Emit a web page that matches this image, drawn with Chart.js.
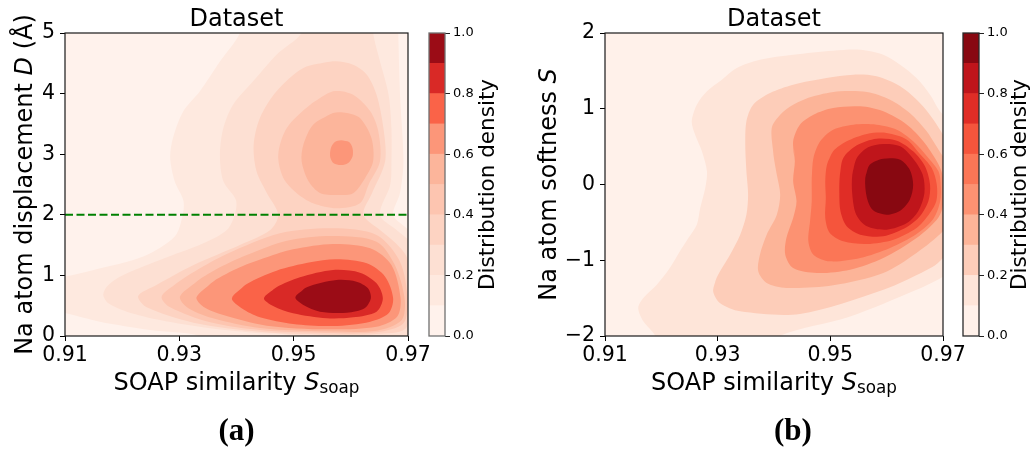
<!DOCTYPE html>
<html>
<head>
<meta charset="utf-8">
<script src="https://cdn.jsdelivr.net/npm/chart.js@4.4.1/dist/chart.umd.min.js"></script>
<style>
  html, body { margin: 0; padding: 0; background: #fff; }
  #page { position: relative; width: 1036px; height: 451px; overflow: hidden; background: #fff; }
  .box { position: absolute; top: 0; }
  .cap { position: absolute; width: 100px; text-align: center; color: #000;
         font-family: "Liberation Serif", "Times New Roman", serif; font-weight: bold;
         font-size: 31px; line-height: 31px; }
</style>
</head>
<body>
<div id="page">
  <div class="box" style="left:0px"><canvas id="mapA" width="440" height="451"></canvas></div>
  <div class="box" style="left:420px"><canvas id="barA" width="100" height="451"></canvas></div>
  <div class="box" style="left:520px"><canvas id="mapB" width="460" height="451"></canvas></div>
  <div class="box" style="left:950px"><canvas id="barB" width="86" height="451"></canvas></div>
  <div class="cap" style="left:186.5px; top:414px">(a)</div>
  <div class="cap" style="left:743px; top:414px">(b)</div>
</div>
<script>
// ---------- axes ----------
const X_RANGE = [0.91, 0.97];
const X_TICKS = [0.91, 0.93, 0.95, 0.97];
const A_Y_RANGE = [0, 5];
const A_Y_TICKS = [0, 1, 2, 3, 4, 5];
const B_Y_RANGE = [-2, 2];
const B_Y_TICKS = [-2, -1, 0, 1, 2];
const LEVELS = [0, 0.1, 0.2, 0.3, 0.4, 0.5, 0.6, 0.7, 0.8, 0.9, 1.0];
const BAR_TICKS = [0, 0.2, 0.4, 0.6, 0.8, 1.0];
const A_CUTOFF_D = [2];

// ---------- (a) density contours, points are [S_soap, D] ----------
const A_L1 = [[0.9406,5.3],[0.9406,5.0],[0.9371,4.53],[0.9336,4.04],[0.9307,3.71],[0.9289,3.27],[0.9284,2.94],[0.9292,2.55],[0.9307,2.24],[0.9306,2.0],[0.9292,1.64],[0.9237,1.31],[0.9150,1.09],[0.9100,0.98],[0.9050,0.90],[0.9050,0.45],[0.9100,0.38],[0.9161,0.236],[0.9249,0.099],[0.9336,0.0],[0.9350,-0.2],[0.9720,-0.2],[0.9730,1.5],[0.9715,1.65],[0.9695,1.8],[0.9674,2.002],[0.9686,2.36],[0.9692,2.88],[0.9686,3.98],[0.9683,5.0],[0.9683,5.3]];
const A_L2 = [[0.9514,5.3],[0.9514,5.0],[0.9470,4.643],[0.9429,4.202],[0.9394,3.817],[0.9377,3.432],[0.9371,2.992],[0.9377,2.552],[0.9399,2.244],[0.9397,2.002],[0.9383,1.749],[0.9342,1.529],[0.9266,1.254],[0.9196,0.979],[0.9173,0.814],[0.9167,0.677],[0.9176,0.539],[0.9208,0.402],[0.9266,0.264],[0.9354,0.127],[0.9441,0.044],[0.9500,0.0],[0.9520,-0.2],[0.9720,-0.2],[0.9725,1.3],[0.9705,1.55],[0.9680,1.75],[0.9651,2.002],[0.9669,2.497],[0.9671,2.882],[0.9671,3.432],[0.9666,3.982],[0.9651,4.532],[0.9639,5.0],[0.9639,5.3]];
const A_L3 = [[0.9569,4.532],[0.9517,4.422],[0.9470,4.037],[0.9441,3.597],[0.9430,3.157],[0.9435,2.717],[0.9453,2.36],[0.9473,2.002],[0.9459,1.749],[0.9406,1.502],[0.9325,1.172],[0.9260,0.842],[0.9228,0.66],[0.9243,0.473],[0.9325,0.220],[0.9441,0.072],[0.9558,0.022],[0.9645,0.033],[0.9695,0.116],[0.9703,0.484],[0.9703,0.98],[0.9698,1.3],[0.9680,1.52],[0.9651,1.749],[0.9622,2.002],[0.9637,2.354],[0.9660,2.882],[0.9657,3.432],[0.9645,3.982],[0.9628,4.312],[0.9604,4.477]];
const A_L4_UPPER = [[0.9569,4.037],[0.9529,3.817],[0.9488,3.432],[0.9473,2.992],[0.9482,2.607],[0.9505,2.36],[0.9534,2.19],[0.9575,2.107],[0.9616,2.19],[0.9631,2.497],[0.9651,2.882],[0.9648,3.377],[0.9634,3.707],[0.9604,3.982]];
const A_L4_LOWER = [[0.9269,0.649],[0.9295,0.869],[0.9336,1.117],[0.9383,1.353],[0.9476,1.694],[0.9569,1.777],[0.9645,1.667],[0.9686,1.227],[0.9699,0.622],[0.9692,0.209],[0.9645,0.061],[0.9558,0.050],[0.9441,0.099],[0.9354,0.226],[0.9284,0.473]];
const A_L5_UPPER = [[0.9569,3.680],[0.9534,3.487],[0.9517,3.157],[0.9514,2.882],[0.9526,2.552],[0.9546,2.36],[0.9575,2.327],[0.9604,2.354],[0.9625,2.607],[0.9639,2.882],[0.9636,3.267],[0.9616,3.597],[0.9593,3.68]];
const A_L5_LOWER = [[0.9301,0.649],[0.9330,0.897],[0.9371,1.133],[0.9418,1.337],[0.9488,1.573],[0.9569,1.650],[0.9645,1.557],[0.9677,1.172],[0.9694,0.622],[0.9689,0.264],[0.9645,0.088],[0.9558,0.077],[0.9441,0.132],[0.9359,0.292],[0.9316,0.457]];
const A_L6_UPPER = [[0.9583,3.23],[0.9597,3.20],[0.9603,3.10],[0.9603,2.96],[0.9596,2.86],[0.9583,2.82],[0.9570,2.85],[0.9564,2.95],[0.9565,3.10],[0.9572,3.20]];
const A_L6_LOWER = [[0.9330,0.638],[0.9359,0.897],[0.9406,1.133],[0.9453,1.298],[0.9499,1.430],[0.9569,1.518],[0.9634,1.447],[0.9671,1.172],[0.9687,0.622],[0.9681,0.319],[0.9645,0.154],[0.9558,0.110],[0.9453,0.171],[0.9377,0.347],[0.9342,0.484]];
const A_L7 = [[0.9392,0.622],[0.9418,0.858],[0.9470,1.078],[0.9529,1.216],[0.9575,1.265],[0.9628,1.199],[0.9660,0.979],[0.9674,0.622],[0.9666,0.374],[0.9634,0.237],[0.9569,0.165],[0.9499,0.198],[0.9441,0.308],[0.9409,0.457]];
const A_L8 = [[0.9448,0.622],[0.9470,0.803],[0.9511,0.968],[0.9569,1.089],[0.9616,1.045],[0.9645,0.869],[0.9656,0.622],[0.9645,0.402],[0.9604,0.308],[0.9558,0.292],[0.9499,0.374],[0.9464,0.495]];
const A_L9 = [[0.9503,0.638],[0.9523,0.803],[0.9575,0.924],[0.9610,0.897],[0.9630,0.787],[0.9635,0.622],[0.9624,0.457],[0.9593,0.385],[0.9546,0.402],[0.9517,0.512]];

// ---------- (b) density contours, points are [S_soap, S] ----------
const B_L1 = [[0.9189,-2.2],[0.9189,-2.0],[0.9168,-1.806],[0.9159,-1.630],[0.9168,-1.498],[0.9192,-1.322],[0.9215,-1.102],[0.9233,-0.882],[0.9248,-0.706],[0.9263,-0.530],[0.9269,-0.310],[0.9278,-0.046],[0.9281,0.174],[0.9272,0.438],[0.9260,0.658],[0.9254,0.834],[0.9263,1.054],[0.9281,1.230],[0.9304,1.362],[0.9334,1.538],[0.9375,1.648],[0.9434,1.714],[0.9505,1.767],[0.9553,1.780],[0.9594,1.714],[0.9624,1.582],[0.9653,1.406],[0.9677,1.186],[0.9693,0.983],[0.9715,0.75],[0.9715,-1.1],[0.9700,-1.217],[0.9652,-1.393],[0.9534,-1.745],[0.9410,-2.0],[0.9400,-2.2]];
const B_L2 = [[0.9292,-1.410],[0.9298,-1.234],[0.9322,-0.926],[0.9340,-0.662],[0.9351,-0.398],[0.9354,-0.134],[0.9351,0.174],[0.9349,0.526],[0.9351,0.834],[0.9363,1.054],[0.9393,1.208],[0.9434,1.318],[0.9493,1.406],[0.9541,1.450],[0.9582,1.428],[0.9624,1.296],[0.9659,1.076],[0.9683,0.856],[0.9700,0.658],[0.9712,0.5],[0.9712,-0.85],[0.9700,-0.970],[0.9682,-1.085],[0.9593,-1.393],[0.9446,-1.709],[0.9340,-1.674],[0.9304,-1.564]];
const B_L3 = [[0.9396,0.746],[0.9399,0.394],[0.9405,0.130],[0.9411,-0.134],[0.9405,-0.398],[0.9387,-0.662],[0.9375,-0.926],[0.9372,-1.146],[0.9387,-1.300],[0.9422,-1.366],[0.9505,-1.331],[0.9594,-1.168],[0.9653,-0.904],[0.9700,-0.618],[0.9712,-0.45],[0.9712,0.3],[0.9700,0.372],[0.9671,0.702],[0.9641,0.944],[0.9606,1.120],[0.9565,1.221],[0.9517,1.230],[0.9470,1.164],[0.9434,1.054],[0.9411,0.922]];
const B_L4 = [[0.9434,0.570],[0.9437,0.306],[0.9434,0.042],[0.9440,-0.222],[0.9434,-0.442],[0.9422,-0.706],[0.9420,-0.926],[0.9434,-1.102],[0.9476,-1.168],[0.9535,-1.124],[0.9594,-0.970],[0.9653,-0.706],[0.9689,-0.464],[0.9699,-0.310],[0.9701,-0.090],[0.9699,0.130],[0.9689,0.306],[0.9665,0.570],[0.9636,0.790],[0.9594,0.966],[0.9553,1.032],[0.9505,1.010],[0.9470,0.922],[0.9446,0.790]];
const B_L5 = [[0.9470,0.350],[0.9467,0.086],[0.9467,-0.222],[0.9464,-0.486],[0.9461,-0.750],[0.9470,-0.926],[0.9499,-1.014],[0.9553,-0.970],[0.9606,-0.838],[0.9653,-0.653],[0.9683,-0.451],[0.9695,-0.222],[0.9696,-0.002],[0.9692,0.174],[0.9674,0.350],[0.9647,0.570],[0.9618,0.724],[0.9582,0.790],[0.9541,0.790],[0.9505,0.724],[0.9482,0.570]];
const B_L6 = [[0.9494,0.262],[0.9505,0.438],[0.9529,0.570],[0.9565,0.667],[0.9600,0.680],[0.9636,0.592],[0.9659,0.403],[0.9680,0.218],[0.9689,-0.002],[0.9688,-0.222],[0.9674,-0.407],[0.9653,-0.574],[0.9612,-0.728],[0.9565,-0.785],[0.9523,-0.750],[0.9499,-0.640],[0.9491,-0.442],[0.9492,-0.178],[0.9491,0.042]];
const B_L7 = [[0.9517,0.130],[0.9523,0.350],[0.9547,0.517],[0.9582,0.605],[0.9618,0.579],[0.9647,0.438],[0.9668,0.240],[0.9677,-0.002],[0.9674,-0.222],[0.9659,-0.420],[0.9636,-0.561],[0.9594,-0.684],[0.9553,-0.662],[0.9529,-0.552],[0.9518,-0.354],[0.9516,-0.112]];
const B_L8 = [[0.9539,0.130],[0.9547,0.350],[0.9567,0.491],[0.9594,0.535],[0.9624,0.504],[0.9647,0.341],[0.9664,0.130],[0.9667,-0.112],[0.9656,-0.354],[0.9636,-0.508],[0.9600,-0.596],[0.9565,-0.552],[0.9546,-0.398],[0.9539,-0.134]];
const B_L9 = [[0.9562,0.086],[0.9570,0.262],[0.9594,0.341],[0.9624,0.328],[0.9641,0.196],[0.9647,-0.002],[0.9641,-0.200],[0.9624,-0.345],[0.9600,-0.398],[0.9576,-0.341],[0.9565,-0.178]];

// ---------- colours of the ten density bands (0.0-0.1 ... 0.9-1.0) ----------
const A_COLORS = ['#fff2ec','#fee9df','#fde0d3','#fdd3c2','#fdc5b0','#fcb59b','#fc9679','#fa6348','#d92926','#9b0c16'];
const B_COLORS = ['#fff1ea','#fee5d9','#fdcdb9','#fcb498','#fc9272','#fb7656','#f5553c','#e02d26','#bf151b','#880811'];

const A_CONTOURS = [
  { level: 0.1, pts: A_L1 }, { level: 0.2, pts: A_L2 }, { level: 0.3, pts: A_L3 },
  { level: 0.4, pts: A_L4_UPPER }, { level: 0.4, pts: A_L4_LOWER },
  { level: 0.5, pts: A_L5_UPPER }, { level: 0.5, pts: A_L5_LOWER },
  { level: 0.6, pts: A_L6_UPPER }, { level: 0.6, pts: A_L6_LOWER },
  { level: 0.7, pts: A_L7 }, { level: 0.8, pts: A_L8 }, { level: 0.9, pts: A_L9 }
];
const B_CONTOURS = [
  { level: 0.1, pts: B_L1 }, { level: 0.2, pts: B_L2 }, { level: 0.3, pts: B_L3 },
  { level: 0.4, pts: B_L4 }, { level: 0.5, pts: B_L5 }, { level: 0.6, pts: B_L6 },
  { level: 0.7, pts: B_L7 }, { level: 0.8, pts: B_L8 }, { level: 0.9, pts: B_L9 }
];

const FONT = '"DejaVu Sans"';
Chart.defaults.font.family = FONT;
Chart.defaults.color = '#000';

// closed ring: repeat the first two points so the spline closes smoothly
function ring(pts) {
  const d = pts.map(p => ({ x: p[0], y: p[1] }));
  d.push(d[0], d[1]);
  return d;
}

// mixed-font text (italics, subscripts), optionally rotated to read upwards
function drawRuns(ctx, runs, x, y, rotate) {
  ctx.save();
  ctx.translate(x, y);
  if (rotate) ctx.rotate(-Math.PI / 2);
  ctx.fillStyle = '#000';
  ctx.textBaseline = 'alphabetic';
  ctx.textAlign = 'left';
  let total = 0;
  const widths = runs.map(r => { ctx.font = r.font; const w = ctx.measureText(r.text).width; total += w; return w; });
  let cx = -total / 2;
  runs.forEach((r, i) => { ctx.font = r.font; ctx.fillText(r.text, cx, r.dy || 0); cx += widths[i]; });
  ctx.restore();
}

const richLabels = {
  id: 'richLabels',
  afterDraw(chart, args, opts) {
    const a = chart.chartArea;
    (opts.items || []).forEach(it => drawRuns(chart.ctx, it.runs, it.x(a), it.y(a), it.rotate));
  }
};

// band-0 background under the contours and the axes frame on top
const plotFrame = {
  id: 'plotFrame',
  beforeDatasetsDraw(chart, args, opts) {
    if (!opts.fill) return;
    const a = chart.chartArea, ctx = chart.ctx;
    ctx.save(); ctx.fillStyle = opts.fill; ctx.fillRect(a.left, a.top, a.width, a.height); ctx.restore();
  },
  afterDraw(chart, args, opts) {
    const a = chart.chartArea, ctx = chart.ctx;
    ctx.save(); ctx.strokeStyle = opts.stroke || '#000'; ctx.lineWidth = opts.width || 1;
    ctx.strokeRect(a.left, a.top, a.width, a.height); ctx.restore();
  }
};

const fmtMinus = v => (v < 0 ? '\u2212' + Math.abs(v) : String(v));

const X_TITLE = [
  { text: 'SOAP similarity ', font: '24px ' + FONT },
  { text: 'S', font: 'italic 24px ' + FONT },
  { text: 'soap', font: '16.8px ' + FONT, dy: 3 }
];
const A_Y_TITLE = [
  { text: 'Na atom displacement ', font: '24px ' + FONT },
  { text: 'D', font: 'italic 24px ' + FONT },
  { text: ' (\u00c5)', font: '24px ' + FONT }
];
const B_Y_TITLE = [
  { text: 'Na atom softness ', font: '24px ' + FONT },
  { text: 'S', font: 'italic 24px ' + FONT }
];
const CB_TITLE = [{ text: 'Distribution density', font: '21.5px ' + FONT }];

function contourChart(id, cfg) {
  const datasets = cfg.contours.map(c => {
    const k = Math.round(c.level * 10);
    return { data: ring(c.pts), fill: 'shape', backgroundColor: cfg.colors[k], borderWidth: 0,
             pointRadius: 0, pointHoverRadius: 0, tension: 0.3, order: 20 - k };
  });
  (cfg.extra || []).forEach(d => datasets.push(d));
  const axisGrid = { display: true, drawOnChartArea: false, drawTicks: true, tickLength: 5, color: '#000', lineWidth: 1 };
  return new Chart(document.getElementById(id), {
    type: 'line',
    data: { datasets },
    plugins: [plotFrame, richLabels],
    options: {
      responsive: false, animation: false, events: [],
      layout: { padding: { left: 0, right: cfg.padRight, top: 0, bottom: 55 } },
      elements: { line: { capBezierPoints: false } },
      plugins: {
        legend: { display: false }, tooltip: { enabled: false },
        title: { display: true, text: 'Dataset', fullSize: false, color: '#000',
                 font: { size: 24, weight: 'normal', lineHeight: 1 }, padding: { top: 8, bottom: 1 } },
        plotFrame: { fill: cfg.colors[0], stroke: '#1a1a1a', width: 1.2 },
        richLabels: { items: [
          { runs: X_TITLE, x: a => (a.left + a.right) / 2, y: () => 390, rotate: false },
          { runs: cfg.yTitle, x: () => cfg.yTitleX, y: a => (a.top + a.bottom) / 2, rotate: true }
        ] }
      },
      scales: {
        x: {
          type: 'linear', min: X_RANGE[0], max: X_RANGE[1],
          afterBuildTicks: s => { s.ticks = X_TICKS.map(v => ({ value: v })); },
          afterFit: s => { s.height = 60; },
          ticks: { font: { size: 20.5, lineHeight: 1 }, color: '#000', padding: 4, maxRotation: 0, autoSkip: false,
                   callback: v => v.toFixed(2) },
          grid: axisGrid, border: { display: false }
        },
        y: {
          type: 'linear', min: cfg.yRange[0], max: cfg.yRange[1],
          afterBuildTicks: s => { s.ticks = cfg.yTicks.map(v => ({ value: v })); },
          afterFit: s => { s.width = cfg.yWidth; },
          ticks: { font: { size: 20.5, lineHeight: 1 }, color: '#000', padding: 5, autoSkip: false, callback: fmtMinus },
          grid: axisGrid, border: { display: false }
        }
      }
    }
  });
}

function colorbarChart(id, cfg) {
  const datasets = cfg.colors.map((c, i) => ({
    data: [LEVELS[i + 1] - LEVELS[i]], backgroundColor: c, borderWidth: 0,
    barPercentage: 1, categoryPercentage: 1
  }));
  return new Chart(document.getElementById(id), {
    type: 'bar',
    data: { labels: [''], datasets },
    plugins: [plotFrame, richLabels],
    options: {
      responsive: false, animation: false, events: [],
      layout: { padding: { left: cfg.padLeft, right: cfg.padRight, top: 33, bottom: 115 } },
      plugins: {
        legend: { display: false }, tooltip: { enabled: false },
        plotFrame: { stroke: cfg.outline, width: 1.3 },
        richLabels: { items: [
          { runs: CB_TITLE, x: () => cfg.titleX, y: a => (a.top + a.bottom) / 2, rotate: true }
        ] }
      },
      scales: {
        x: { display: false, stacked: true },
        y: {
          stacked: true, position: 'right', min: LEVELS[0], max: LEVELS[LEVELS.length - 1],
          afterBuildTicks: s => { s.ticks = BAR_TICKS.map(v => ({ value: v })); },
          afterFit: s => { s.width = 40; },
          ticks: { font: { size: 13, lineHeight: 1 }, color: '#000', padding: 3, callback: v => v.toFixed(1) },
          grid: { display: true, drawOnChartArea: false, drawTicks: true, tickLength: 5, color: '#222', lineWidth: 1 },
          border: { display: false }
        }
      }
    }
  });
}

contourChart('mapA', {
  contours: A_CONTOURS, colors: A_COLORS, yRange: A_Y_RANGE, yTicks: A_Y_TICKS,
  yWidth: 65, padRight: 32, yTitle: A_Y_TITLE, yTitleX: 32,
  extra: [{
    data: X_RANGE.map(x => ({ x, y: A_CUTOFF_D[0] })),
    borderColor: '#008000', borderWidth: 2, borderDash: [8, 3.5], fill: false,
    pointRadius: 0, pointHoverRadius: 0, tension: 0, order: 0
  }]
});
colorbarChart('barA', { colors: A_COLORS, padLeft: 9, padRight: 35, outline: '#707070', titleX: 74 });

contourChart('mapB', {
  contours: B_CONTOURS, colors: B_COLORS, yRange: B_Y_RANGE, yTicks: B_Y_TICKS,
  yWidth: 85, padRight: 37, yTitle: B_Y_TITLE, yTitleX: 35.8
});
colorbarChart('barB', { colors: B_COLORS, padLeft: 13, padRight: 17, outline: '#2a2a2a', titleX: 75.5 });
</script>
</body>
</html>
